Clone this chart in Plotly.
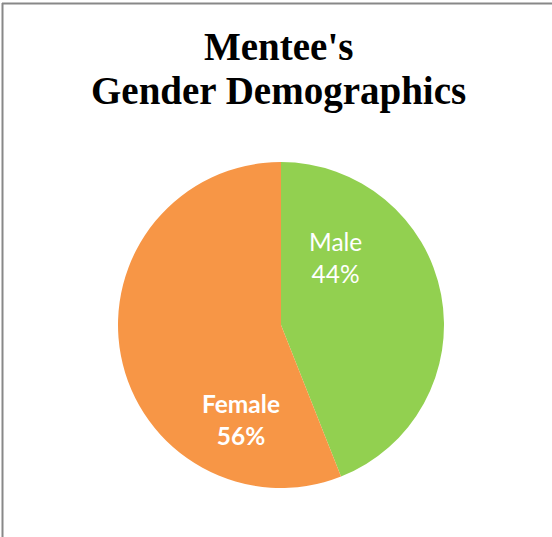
import plotly.graph_objects as go

categories = ["Male", "Female"]
values = [44, 56]
colors = ["#92D050", "#F79646"]
title_lines = ["Mentee's", "Gender Demographics"]

W, H = 552, 537
cx, cy, r = 281, 325, 163

fig = go.Figure(go.Pie(
    labels=categories,
    values=values,
    sort=False,
    direction="clockwise",
    rotation=0,
    marker=dict(colors=colors, line=dict(color="white", width=0)),
    textinfo="none",
    hoverinfo="label+percent",
    showlegend=False,
    domain=dict(x=[(cx - r) / W, (cx + r) / W], y=[(H - cy - r) / H, (H - cy + r) / H]),
))

total = sum(values)
label_pos = [(335, 257), (241, 419)]
label_bold = [False, True]
for cat, v, (lx, ly), b in zip(categories, values, label_pos, label_bold):
    txt = f"{cat}<br>{round(100 * v / total)}%"
    if b:
        txt = f"<b>{cat}</b><br><b>{round(100 * v / total)}%</b>"
    fig.add_annotation(
        x=lx / W, y=1 - ly / H, xref="paper", yref="paper",
        text=txt, showarrow=False,
        font=dict(family="Lato, Open Sans, sans-serif", size=24.5, color="white"),
        align="center", xanchor="center", yanchor="middle",
    )

title_y = [47, 91]
for line, ty in zip(title_lines, title_y):
    fig.add_annotation(
        x=278 / W, y=1 - ty / H, xref="paper", yref="paper",
        text="<b>" + line + "</b>", showarrow=False,
        font=dict(family="Liberation Serif, serif", size=39, color="black"),
        align="center", xanchor="center", yanchor="middle",
    )

fig.add_shape(type="line", xref="paper", yref="paper", x0=2 / W, x1=1, y0=1 - 3.5 / H, y1=1 - 3.5 / H,
              line=dict(color="#888888", width=2))
fig.add_shape(type="line", xref="paper", yref="paper", x0=2.5 / W, x1=2.5 / W, y0=0, y1=1 - 3 / H,
              line=dict(color="#888888", width=2))

fig.update_layout(
    width=W, height=H,
    margin=dict(l=0, r=0, t=0, b=0),
    paper_bgcolor="white", plot_bgcolor="white",
)

fig.write_html("out.html")
